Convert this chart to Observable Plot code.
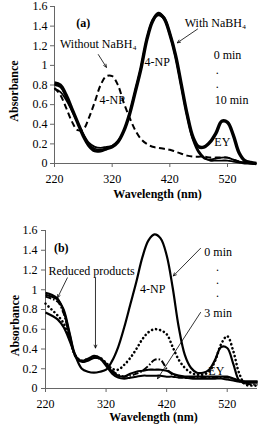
<!DOCTYPE html>
<html><head><meta charset="utf-8">
<script src="https://cdn.jsdelivr.net/npm/d3@7"></script>
<script src="https://cdn.jsdelivr.net/npm/@observablehq/plot@0.6"></script>
<style>
html,body{margin:0;padding:0;background:#fff;}
#chart svg{display:block;overflow:visible;}
</style>
</head><body><div id="chart"></div>
<script>
// ---- data ----
const wavelengths = [220,230,240,250,260,270,280,290,300,310,320,330,340,350,360,370,380,390,400,410,420,430,440,450,460,470,480,490,500,510,520,530,540,550,560,570];
const xTicks = [220, 320, 420, 520];
const yTicks = [0, 0.2, 0.4, 0.6, 0.8, 1, 1.2, 1.4, 1.6];

// Panel (a)
const aWith0  = [.82,.80,.70,.56,.42,.28,.18,.13,.13,.15,.17,.22,.33,.50,.73,.97,1.26,1.45,1.53,1.48,1.32,1.10,.80,.50,.27,.17,.17,.22,.31,.43,.42,.29,.11,.03,.01,0];
const aWith1  = [.76,.73,.65,.54,.42,.30,.21,.17,.16,.17,.18,.23,.33,.50,.74,.98,1.26,1.45,1.51,1.47,1.31,1.08,.78,.48,.24,.11,.05,.04,.05,.06,.06,.04,.02,.01,0,0];
const aWith2  = [.80,.78,.68,.55,.42,.29,.19,.15,.14,.15,.17,.22,.33,.50,.74,.98,1.27,1.46,1.53,1.49,1.33,1.10,.80,.50,.26,.13,.06,.03,.03,.03,.03,.02,.01,0,0,0];
const aWithout = [.77,.70,.57,.43,.34,.35,.47,.63,.80,.89,.89,.80,.62,.47,.34,.25,.20,.17,.16,.15,.14,.12,.10,.08,.07,.07,.07,.06,.06,.06,.06,.04,.02,.01,0,0];

// Panel (b)
const b0min = [.77,.74,.70,.62,.48,.32,.20,.17,.16,.17,.19,.28,.42,.62,.85,1.08,1.33,1.50,1.56,1.52,1.35,1.02,.62,.34,.21,.16,.16,.19,.29,.42,.41,.25,.08,.06,.06,.06];
const b1min = [.86,.80,.74,.66,.50,.33,.28,.30,.32,.31,.26,.20,.19,.24,.31,.40,.50,.57,.60,.59,.55,.42,.29,.21,.16,.14,.14,.17,.28,.45,.53,.38,.15,.04,.03,.03];
const b2min = [.93,.91,.88,.76,.52,.32,.27,.29,.31,.30,.25,.18,.14,.12,.13,.15,.18,.23,.29,.29,.20,.14,.12,.11,.11,.11,.11,.11,.11,.11,.11,.10,.07,.05,.04,.04];
const b3minA = [.97,.95,.91,.78,.54,.32,.28,.30,.33,.31,.25,.17,.13,.12,.15,.17,.18,.19,.19,.19,.18,.15,.13,.12,.12,.12,.12,.12,.12,.12,.12,.10,.08,.07,.07,.07];
const b3minB = [.95,.93,.90,.80,.56,.33,.27,.28,.31,.30,.23,.15,.11,.10,.11,.12,.13,.13,.13,.13,.12,.12,.11,.11,.10,.10,.10,.10,.10,.10,.09,.08,.07,.07,.07,.07];

// Annotations (data units: wavelength, absorbance)
const labelsA = [
  {x: 270, y: 1.43, t: "(a)", w: "bold"},
  {x: 296, y: 1.22, t: "Without NaBH₄", w: "normal"},
  {x: 320, y: 0.65, t: "4-NP", w: "normal"},
  {x: 398, y: 1.03, t: "4-NP", w: "normal"},
  {x: 499, y: 1.43, t: "With NaBH₄", w: "normal"},
  {x: 520, y: 1.10, t: "0 min", w: "normal"},
  {x: 502, y: 0.95, t: ".", w: "normal"},
  {x: 502, y: 0.81, t: ".", w: "normal"},
  {x: 527, y: 0.65, t: "10 min", w: "normal"},
  {x: 511, y: 0.22, t: "EY", w: "normal"}
];
const arrowsA = [
  {x1: 296, y1: 1.11, x2: 310, y2: 0.98},
  {x1: 468, y1: 1.37, x2: 433, y2: 1.23}
];
const labelsB = [
  {x: 246, y: 1.42, t: "(b)", w: "bold"},
  {x: 296, y: 1.19, t: "Reduced products", w: "normal"},
  {x: 397, y: 1.01, t: "4-NP", w: "normal"},
  {x: 505, y: 1.38, t: "0 min", w: "normal"},
  {x: 504, y: 1.23, t: ".", w: "normal"},
  {x: 504, y: 1.10, t: ".", w: "normal"},
  {x: 504, y: 0.97, t: ".", w: "normal"},
  {x: 505, y: 0.76, t: "3 min", w: "normal"},
  {x: 502, y: 0.18, t: "EY", w: "normal"}
];
const arrowsB = [
  {x1: 256, y1: 1.12, x2: 240, y2: 0.92},
  {x1: 302.5, y1: 1.12, x2: 302.5, y2: 0.41},
  {x1: 476, y1: 1.42, x2: 431, y2: 1.14},
  {x1: 476, y1: 0.77, x2: 405, y2: 0.10}
];

// ---- drawing ----
const FONT = "Liberation Serif, Times New Roman, serif";
const toRows = vals => wavelengths.map((w, i) => ({w, a: vals[i]}));
const fmtY = d => String(Math.round(d * 10) / 10);

function panel(cfg) {
  const lineMarks = cfg.series.map(s => Plot.line(toRows(s.values), {
    x: "w", y: "a", curve: "catmull-rom", stroke: "#000",
    strokeWidth: s.width, strokeDasharray: s.dash, strokeLinecap: s.cap || "butt"
  }));
  return Plot.plot({
    width: 259, height: cfg.height,
    marginTop: cfg.mt, marginBottom: cfg.mb, marginLeft: cfg.ml, marginRight: 2,
    x: {domain: [220, cfg.xmax]},
    y: {domain: [0, 1.6]},
    style: {fontFamily: FONT, fontSize: "12px", background: "#fff", color: "#000", overflow: "visible"},
    marks: [
      Plot.axisX({ticks: xTicks, tickSize: 4, tickPadding: cfg.xpad, tickFormat: d => String(d), label: null, fontSize: 12, stroke: "#666", fontFamily: FONT}),
      Plot.axisY({ticks: yTicks, tickSize: 4, tickPadding: cfg.ypad, tickFormat: fmtY, label: null, fontSize: 12, stroke: "#666", fontFamily: FONT}),
      Plot.ruleX([220], {stroke: "#666"}),
      Plot.ruleY([0], {stroke: "#666"}),
      ...lineMarks,
      Plot.arrow(cfg.arrows, {x1: "x1", y1: "y1", x2: "x2", y2: "y2", stroke: "#000", strokeWidth: 0.8, headLength: 6, headAngle: 50}),
      Plot.text(cfg.labels.filter(d => d.w === "normal"), {x: "x", y: "y", text: "t", fontSize: 12, fill: "#000", fontFamily: FONT}),
      Plot.text(cfg.labels.filter(d => d.w === "bold"), {x: "x", y: "y", text: "t", fontSize: 12, fontWeight: "bold", fill: "#000", fontFamily: FONT}),
      Plot.text(["Absorbance"], {text: d => d, frameAnchor: "left", textAnchor: "middle", lineAnchor: "middle", rotate: -90, dx: cfg.adx, dy: cfg.ady, fontWeight: "bold", fontSize: 12, fill: "#000", fontFamily: FONT}),
      Plot.text(["Wavelength (nm)"], {text: d => d, frameAnchor: "bottom", textAnchor: "middle", lineAnchor: "middle", dx: cfg.wdx, dy: cfg.wdy, fontWeight: "bold", fontSize: 12, fill: "#000", fontFamily: FONT})
    ]
  });
}

const pa = panel({
  height: 212, mt: 6, mb: 49, ml: 54, xmax: 572, xpad: 7, ypad: 3,
  adx: -40, ady: 6, wdx: 1.5, wdy: 31,
  labels: labelsA, arrows: arrowsA,
  series: [
    {values: aWithout, width: 2, dash: "6,3.5"},
    {values: aWith1, width: 1.8},
    {values: aWith2, width: 1.8},
    {values: aWith0, width: 3.4}
  ]
});
const pb = panel({
  height: 213, mt: 18, mb: 37, ml: 45, xmax: 570, xpad: 7, ypad: 4,
  adx: -30, ady: 16, wdx: 2, wdy: 29,
  labels: labelsB, arrows: arrowsB,
  series: [
    {values: b3minB, width: 2},
    {values: b3minA, width: 2.2},
    {values: b2min, width: 2, dash: "6,2,1.5,2"},
    {values: b1min, width: 2.6, dash: "0.1,4", cap: "round"},
    {values: b0min, width: 2.2}
  ]
});
document.getElementById("chart").append(pa, pb);
</script>
</body></html>
